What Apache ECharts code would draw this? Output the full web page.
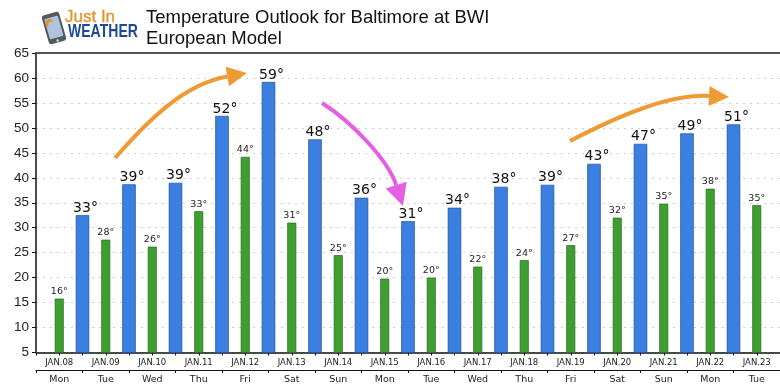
<!DOCTYPE html>
<html><head><meta charset="utf-8">
<style>html,body{margin:0;padding:0;background:#fff}#c{width:780px;height:390px}</style>
<script src="https://cdn.jsdelivr.net/npm/echarts@6/dist/echarts.min.js"></script>
</head><body><div id="c"></div>
<script>
const dates = ['JAN.08','JAN.09','JAN.10','JAN.11','JAN.12','JAN.13','JAN.14','JAN.15','JAN.16','JAN.17','JAN.18','JAN.19','JAN.20','JAN.21','JAN.22','JAN.23'];
const weekdays = ['Mon','Tue','Wed','Thu','Fri','Sat','Sun','Mon','Tue','Wed','Thu','Fri','Sat','Sun','Mon','Tue'];
const lowTemps = [15.8,27.6,26.2,33.3,44.2,31,24.5,19.8,20,22.2,23.5,26.5,32,34.8,37.8,34.5];
const highTemps = [32.5,38.7,39,52.4,59.2,47.7,36,31.3,34,38.2,38.6,42.8,46.8,48.9,50.7];
const yTicks = {min:5,max:65,step:5};
const axisText = '#222', fontA = '"Liberation Sans",Arial,sans-serif', fontB = '"DejaVu Sans",sans-serif';
const fmt = p => Math.round(p.value[1]) + '°';
function arrow(x0,y0,c1x,c1y,c2x,c2y,x1,y1,head,color,w){
  const a = Math.atan2(y1-c2y,x1-c2x), L=head, H=head*0.5;
  const bx=x1-L*Math.cos(a), by=y1-L*Math.sin(a), nx=-Math.sin(a), ny=Math.cos(a);
  return [
    {type:'bezierCurve',z:20,shape:{x1:x0,y1:y0,cpx1:c1x,cpy1:c1y,cpx2:c2x,cpy2:c2y,x2:bx,y2:by},style:{stroke:color,lineWidth:w,fill:null}},
    {type:'polygon',z:20,shape:{points:[[x1,y1],[bx+nx*H,by+ny*H],[bx-nx*H,by-ny*H]]},style:{fill:color}}
  ];
}
const halfAxis = {type:'value',min:0,max:32,interval:1,position:'bottom',axisLabel:{show:false},splitLine:{show:false}};
const chart = echarts.init(document.getElementById('c'),null,{renderer:'canvas'});
chart.setOption({
  animation:false,
  backgroundColor:'#fff',
  grid:{left:36,right:0,top:53,height:299.5,containLabel:false},
  xAxis:[
    {...halfAxis,axisLine:{show:true,onZero:false,lineStyle:{color:'#111',width:1.5}},
      axisTick:{show:true,length:3,lineStyle:{color:'#111'}}},
    {type:'category',data:dates,position:'bottom',axisLine:{show:false},axisTick:{show:false},
      axisLabel:{interval:0,margin:6,fontSize:8.5,fontFamily:fontB,color:axisText}},
    {type:'category',data:weekdays,position:'bottom',offset:17.5,axisLine:{show:true,lineStyle:{color:'#111'}},
      axisTick:{show:true,length:3,lineStyle:{color:'#111'}},
      axisLabel:{interval:0,margin:5,fontSize:9.5,fontFamily:fontB,color:axisText}},
    {type:'category',data:dates,position:'top',axisLine:{show:true,lineStyle:{color:'#555',width:2}},axisTick:{show:false},axisLabel:{show:false}},
    {...halfAxis,show:false}
  ],
  yAxis:{type:'value',min:yTicks.min,max:yTicks.max,interval:yTicks.step,
    axisLine:{show:true,onZero:false,lineStyle:{color:'#111',width:1.5}},
    axisTick:{show:true,length:4,lineStyle:{color:'#111'}},
    axisLabel:{margin:7,fontSize:13.5,fontFamily:fontA,color:axisText},
    splitLine:{show:true,lineStyle:{color:'#cfcfcf',type:[2,5],width:1}}},
  series:[
    {name:'High',type:'bar',xAxisIndex:4,barWidth:13.5,
      data:highTemps.map((v,i)=>[2*i+2,v]),
      itemStyle:{color:'#3b7fe0',borderColor:'#1f4f9a',borderWidth:0.7},
      label:{show:true,position:'top',distance:0,offset:[3,0],formatter:fmt,fontFamily:fontB,fontSize:14,color:'#111'}},
    {name:'Low',type:'bar',xAxisIndex:0,barWidth:9,
      data:lowTemps.map((v,i)=>[2*i+1,v]),
      itemStyle:{color:'#3f9e30',borderColor:'#2a6d22',borderWidth:0.7},
      label:{show:true,position:'top',distance:2,formatter:fmt,fontFamily:fontB,fontSize:9.5,color:'#222'}}
  ],
  graphic:[
    {type:'text',left:146,top:8,style:{text:'Temperature Outlook for Baltimore at BWI',fontFamily:fontA,fontSize:18.5,fill:'#111'}},
    {type:'text',left:146,top:29,style:{text:'European Model',fontFamily:fontA,fontSize:18.5,fill:'#111'}},
    {type:'group',z:5,x:54,y:28,rotation:0.28,children:[
      {type:'rect',shape:{x:-9,y:-15,width:18,height:30,r:3},style:{fill:'#54585f'}},
      {type:'rect',shape:{x:-7,y:-11,width:14,height:21,r:1},style:{fill:'#aec3de'}},
      {type:'circle',shape:{cx:-3,cy:-6,r:4},style:{fill:'#e8922c'}},
      {type:'circle',shape:{cx:-1,cy:-3,r:4},style:{fill:'#aec3de'}},
      {type:'circle',shape:{cx:0,cy:13,r:1.2},style:{fill:'#ddd'}}
    ]},
    {type:'text',z:7,x:65,y:9,style:{text:'Just In',fontFamily:fontA,fontSize:17,fill:'#e8922c',stroke:'#e8922c',lineWidth:0.3}},
    {type:'text',z:7,x:68,y:23,scaleX:0.78,style:{text:'WEATHER',fontFamily:fontA,fontSize:18,fontWeight:'bold',fill:'#1d4a96'}},
    ...arrow(115,158,150,118,185,84,247,73,20,'#ee9a35',4),
    ...arrow(322,103,352,122,388,160,403,206,22,'#e55fe2',4),
    ...arrow(570,141,620,115,670,94,729,97,20,'#ee9a35',4)
  ]
});
</script></body></html>
